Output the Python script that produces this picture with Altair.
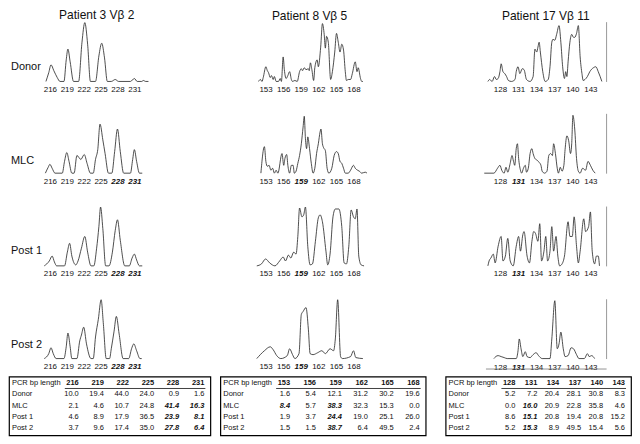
import altair as alt
import pandas as pd

FONT = "Liberation Sans"
INK = "#111111"

# ---------------- labels ----------------
titles = ["Patient 3 Vβ 2", "Patient 8 Vβ 5", "Patient 17 Vβ 11"]
conditions = ["Donor", "MLC", "Post 1", "Post 2"]

p3_ticks = [216, 219, 222, 225, 228, 231]
p8_ticks = [153, 156, 159, 162, 165, 168]
p17_ticks = [128, 131, 134, 137, 140, 143]
p3_emph_ticks = [228, 231]
p8_emph_ticks = [159]
p17_emph_ticks = [131]

# ---------------- spectratype traces: (bp length, peak height) ----------------
p3_donor = [(215.3, 0), (215.8, 9), (216.2, 17), (216.7, 11), (217.3, 4), (217.8, 0),
            (218.5, 0), (218.9, 22), (219.2, 33), (219.6, 20), (220.2, 0),
            (221.1, 0), (221.7, 40), (222.2, 60), (222.7, 38), (223.2, 0),
            (224.1, 0), (224.7, 26), (225.2, 39), (225.7, 24), (226.2, 0),
            (226.9, 0), (227.6, 2), (228.2, 0), (230.3, 0), (231.0, 3), (231.5, 0),
            (232.3, 0), (232.6, 1), (233.0, 0), (233.5, 0)]
p3_mlc = [(215.2, 0), (215.7, 6), (216.0, 9), (216.4, 5), (216.9, 0),
          (218.2, 0), (218.6, 12), (219.0, 21), (219.4, 12), (219.9, 0),
          (220.3, 0), (220.8, 18), (221.5, 14), (222.1, 19), (222.6, 10), (223.2, 0),
          (223.7, 0), (224.1, 14), (224.5, 24), (224.9, 50), (225.4, 34), (225.8, 20), (226.4, 0),
          (227.0, 0), (227.5, 22), (228.0, 45), (228.5, 22), (229.1, 0),
          (230.3, 0), (230.7, 14), (231.0, 24), (231.4, 12), (231.9, 0), (232.4, 0)]
p3_post1 = [(215.0, 0), (215.9, 5), (216.4, 10), (216.8, 4), (217.2, 0),
            (218.6, 0), (219.1, 14), (219.5, 23), (219.9, 10), (220.6, 1),
            (221.0, 5), (221.6, 18), (222.2, 30), (222.7, 14), (223.3, 0),
            (223.8, 0), (224.3, 18), (224.7, 40), (225.0, 60), (225.4, 38), (225.9, 0),
            (226.5, 0), (227.1, 14), (227.6, 36), (228.0, 47), (228.5, 26), (229.3, 0),
            (230.1, 0), (230.6, 8), (231.0, 12), (231.4, 6), (231.9, 0), (232.4, 0)]
p3_post2 = [(215.0, 0), (215.8, 5), (216.2, 11), (216.6, 5), (217.1, 0),
            (218.5, 0), (218.9, 12), (219.2, 26), (219.6, 12), (219.9, 0),
            (220.8, 0), (221.3, 18), (221.6, 24), (222.0, 32), (222.5, 15), (223.3, 0),
            (223.7, 0), (224.1, 22), (224.6, 40), (225.1, 60), (225.5, 35), (226.0, 0),
            (226.6, 0), (226.9, 10), (227.4, 28), (227.8, 43), (228.3, 25), (229.0, 0),
            (230.0, 0), (230.5, 10), (230.9, 15), (231.4, 8), (232.0, 0), (232.3, 0)]

p8_donor = [(151.8, 0), (152.1, 2), (152.4, 0), (152.6, 4), (153.05, 15), (153.3, 11),
            (153.5, 9), (153.8, 4), (154.0, 6), (154.3, 2), (154.5, 5), (154.8, 0),
            (155.2, 0), (155.5, 3), (155.7, 0), (156.0, 25), (156.2, 12), (156.5, 3),
            (156.8, 6), (157.1, 10), (157.4, 2), (157.6, 0), (158.0, 1), (158.4, 0),
            (158.8, 10), (159.1, 13), (159.3, 11), (159.6, 14), (159.9, 12), (160.3, 13),
            (160.45, 11), (160.65, 19), (160.9, 12), (161.2, 1), (161.4, 14), (161.8, 22),
            (162.0, 15), (162.4, 35), (162.7, 59), (163.0, 48), (163.2, 34), (163.4, 46),
            (163.7, 40), (164.1, 2), (164.4, 10), (164.8, 30), (165.1, 49), (165.4, 40),
            (165.7, 30), (166.0, 38), (166.3, 32), (166.6, 10), (166.8, 1), (167.1, 2),
            (167.5, 2), (167.8, 8), (168.3, 20), (168.6, 10), (168.8, 14), (169.2, 3),
            (169.4, 0), (169.6, 0)]
p8_mlc = [(152.2, 0), (152.8, 27), (153.05, 12), (153.3, 7), (153.6, 8), (153.9, 3),
          (154.2, 5), (154.5, 0), (154.8, 3), (155.1, 0), (155.8, 20), (156.1, 8),
          (156.3, 15), (156.6, 19), (156.8, 8), (157.1, 0), (157.4, 8), (157.7, 8),
          (157.9, 0), (158.2, 2), (158.5, 10), (158.8, 18), (159.1, 30), (159.4, 47),
          (159.6, 58), (159.8, 35), (160.0, 25), (160.2, 37), (160.5, 25), (160.8, 10),
          (161.1, 0), (161.4, 5), (161.7, 20), (162.0, 30), (162.3, 42), (162.45, 45),
          (162.7, 30), (162.9, 26), (163.2, 23), (163.5, 5), (163.8, 0), (164.3, 5),
          (164.7, 18), (165.1, 22), (165.4, 20), (165.7, 12), (166.0, 10), (166.3, 5),
          (166.6, 0), (167.1, 0), (167.5, 3), (168.0, 8), (168.3, 5), (168.7, 3),
          (169.0, 2), (169.4, 0), (170.0, 1), (170.3, 0)]
p8_post1 = [(151.5, 0), (152.3, 2), (153.0, 7), (153.7, 3), (154.6, 0), (155.4, 5),
            (156.0, 9), (156.4, 5), (156.9, 11), (157.3, 8), (157.8, 14), (158.2, 12),
            (158.5, 30), (158.8, 59), (159.2, 50), (159.5, 52), (159.8, 60), (160.2, 20),
            (160.6, 1), (161.0, 2), (161.5, 25), (162.0, 49), (162.3, 52), (162.7, 45),
            (163.3, 15), (163.6, 1), (164.0, 12), (164.5, 50), (164.9, 58), (165.5, 58),
            (166.0, 40), (166.4, 3), (166.8, 2), (167.2, 20), (167.6, 57), (168.0, 50),
            (168.3, 48), (168.6, 58), (168.9, 10), (169.3, 1), (169.8, 0)]
p8_post2 = [(151.5, 0), (152.8, 8), (153.8, 12), (154.3, 9), (154.9, 3), (155.6, 0),
            (156.7, 3), (157.1, 10), (157.6, 4), (158.0, 0), (158.7, 5), (159.1, 45),
            (159.4, 48), (159.9, 52), (160.3, 30), (160.6, 5), (161.1, 4), (161.9, 6),
            (162.6, 8), (163.2, 5), (164.0, 10), (164.6, 8), (164.9, 20), (165.3, 60),
            (165.8, 2), (166.1, 0), (167.5, 2), (168.0, 8), (168.4, 1), (169.6, 0)]

p17_donor = [(126.0, 0), (126.3, 2), (126.7, 0), (127.1, 5), (127.4, 2), (127.7, 3),
             (128.0, 10), (128.2, 18), (128.5, 10), (128.8, 8), (129.1, 5), (129.4, 1),
             (129.9, 0), (130.5, 2), (130.7, 10), (131.0, 15), (131.3, 8), (131.7, 13),
             (132.0, 12), (132.4, 2), (133.0, 0), (133.5, 5), (133.8, 33), (134.1, 30),
             (134.3, 35), (134.5, 40), (134.7, 30), (135.1, 10), (135.5, 0), (136.0, 2),
             (136.3, 15), (136.6, 40), (136.8, 43), (137.1, 42), (137.4, 48), (137.8, 57),
             (138.1, 40), (138.4, 15), (138.7, 3), (138.9, 10), (139.1, 5), (139.3, 20),
             (139.6, 40), (139.9, 48), (140.2, 45), (140.4, 45), (140.7, 49), (141.0, 57),
             (141.3, 25), (141.6, 8), (141.8, 1), (142.1, 2), (142.5, 5), (142.9, 10),
             (143.5, 14), (143.9, 15), (144.3, 10), (144.9, 0)]
p17_mlc = [(125.4, 0), (127.0, 0), (127.6, 5), (128.0, 8), (128.3, 3), (128.7, 0),
           (129.0, 6), (129.3, 1), (129.7, 10), (130.0, 18), (130.25, 12), (130.45, 8),
           (130.7, 25), (130.9, 30), (131.1, 15), (131.4, 3), (131.6, 0), (131.9, 5),
           (132.2, 8), (132.4, 1), (132.7, 5), (133.0, 20), (133.3, 25), (133.5, 20),
           (133.8, 15), (134.2, 13), (134.5, 11), (134.8, 8), (135.0, 2), (135.4, 0),
           (135.8, 2), (136.1, 18), (136.4, 20), (136.7, 18), (136.9, 30), (137.2, 20),
           (137.5, 5), (137.7, 0), (138.0, 6), (138.3, 2), (138.6, 8), (138.8, 24),
           (139.1, 38), (139.4, 33), (139.7, 20), (139.9, 30), (140.1, 59), (140.4, 45),
           (140.7, 15), (141.0, 2), (141.3, 0), (141.7, 5), (142.2, 3), (142.6, 12),
           (143.0, 8), (143.4, 3), (143.8, 0)]
p17_post1 = [(126.0, 0), (126.2, 5), (126.5, 8), (126.9, 12), (127.2, 3), (127.7, 20),
             (128.2, 30), (128.5, 5), (128.9, 10), (129.3, 28), (129.7, 5), (130.2, 0),
             (130.7, 20), (131.1, 30), (131.4, 15), (131.8, 32), (132.0, 35), (132.5, 10),
             (132.9, 3), (133.3, 25), (133.6, 35), (133.9, 33), (134.3, 25), (134.6, 43),
             (134.9, 5), (135.3, 15), (135.6, 30), (135.9, 5), (136.3, 15), (136.6, 40),
             (136.9, 15), (137.3, 30), (137.6, 10), (137.9, 0), (138.3, 2), (138.7, 10),
             (139.3, 45), (139.6, 30), (140.0, 30), (140.3, 50), (140.7, 20), (141.0, 3),
             (141.3, 15), (141.9, 48), (142.2, 35), (142.7, 40), (143.0, 55), (143.3, 15),
             (143.7, 2), (144.0, 10), (144.3, 10), (144.5, 0)]
p17_post2 = [(127.0, 0), (127.3, 2), (127.7, 3), (128.2, 2), (128.7, 1), (129.2, 0),
             (130.7, 0), (131.0, 8), (131.2, 20), (131.5, 10), (131.8, 2), (132.2, 7),
             (132.5, 2), (133.0, 1), (133.5, 4), (134.0, 6), (134.4, 3), (135.0, 0),
             (136.3, 0), (136.6, 20), (137.1, 59), (137.5, 10), (137.8, 15), (138.1, 27),
             (138.5, 10), (138.8, 2), (139.3, 3), (139.8, 11), (140.2, 10), (140.7, 4),
             (141.1, 0), (142.0, 0), (142.5, 5), (142.8, 2), (143.2, 3), (143.7, 0)]

# ---------------- tables ----------------
table_corner = "PCR bp length"
t1_values = [[10.0, 19.4, 44.0, 24.0, 0.9, 1.6],
             [2.1, 4.6, 10.7, 24.8, 41.4, 16.3],
             [4.6, 8.9, 17.9, 36.5, 23.9, 8.1],
             [3.7, 9.6, 17.4, 35.0, 27.8, 6.4]]
t1_emph = [[0, 0, 0, 0, 0, 0], [0, 0, 0, 0, 1, 1], [0, 0, 0, 0, 1, 1], [0, 0, 0, 0, 1, 1]]
t2_values = [[1.6, 5.4, 12.1, 31.2, 30.2, 19.6],
             [8.4, 5.7, 38.3, 32.3, 15.3, 0.0],
             [1.9, 3.7, 24.4, 19.0, 25.1, 26.0],
             [1.5, 1.5, 38.7, 6.4, 49.5, 2.4]]
t2_emph = [[0, 0, 0, 0, 0, 0], [1, 0, 1, 0, 0, 0], [0, 0, 1, 0, 0, 0], [0, 0, 1, 0, 0, 0]]
t3_values = [[5.2, 7.2, 20.4, 28.1, 30.8, 8.3],
             [0.0, 16.0, 20.9, 22.8, 35.8, 4.6],
             [8.6, 15.1, 20.8, 19.4, 20.8, 15.2],
             [5.2, 15.3, 8.9, 49.5, 15.4, 5.6]]
t3_emph = [[0, 0, 0, 0, 0, 0], [0, 1, 0, 0, 0, 0], [0, 1, 0, 0, 0, 0], [0, 1, 0, 0, 0, 0]]

# ---------------- layout settings ----------------
PANEL_H = 60
col_ticks = [p3_ticks, p8_ticks, p17_ticks]
col_emph = [p3_emph_ticks, p8_emph_ticks, p17_emph_ticks]
col_domain = [[208.74, 234.58], [151.4, 173.0], [125.6, 145.6]]
col_width = [146, 127, 121]
title_dx = [15, -10, 0]
row_label_y = [46, 48, 45, 46]
traces = [[p3_donor, p8_donor, p17_donor],
          [p3_mlc, p8_mlc, p17_mlc],
          [p3_post1, p8_post1, p17_post1],
          [p3_post2, p8_post2, p17_post2]]


def emph_test(vals):
    return " || ".join(f"datum.value == {v}" for v in vals)


def panel(row, col):
    df = pd.DataFrame(traces[row][col], columns=["bp", "h"])
    ax_kw = dict(values=col_ticks[col], format="d", ticks=False, tickSize=0, domain=False,
                 grid=False, title=None, labelFont=FONT, labelFontSize=8, labelColor=INK,
                 labelPadding=4, labelFlush=False, labelOverlap=False, minExtent=0)
    if row > 0:
        t = emph_test(col_emph[col])
        ax_kw["labelFontWeight"] = {"condition": {"test": t, "value": "bold"}, "value": "normal"}
        ax_kw["labelFontStyle"] = {"condition": {"test": t, "value": "italic"}, "value": "normal"}
    if col == 2 and row == 3:
        ax_kw.update(domain=True, domainColor="#777777", domainWidth=0.8, offset=10, labelPadding=-5)
    x_axis = alt.Axis(**ax_kw)

    if col == 2:
        y_axis = alt.Axis(orient="right", title=None, labels=False, ticks=False,
                          domain=True, domainColor="#999999", domainWidth=1,
                          grid=False, minExtent=0)
    else:
        y_axis = None

    line = alt.Chart(df).mark_line(interpolate="monotone", color="#222222", strokeWidth=0.8).encode(
        x=alt.X("bp:Q", scale=alt.Scale(domain=col_domain[col], nice=False, zero=False), axis=x_axis),
        y=alt.Y("h:Q", scale=alt.Scale(domain=[0, 61], nice=False), axis=y_axis),
    )
    layers = [line]
    if col == 0:
        lab = pd.DataFrame({"label": [conditions[row]]})
        layers.append(alt.Chart(lab).mark_text(align="left", baseline="middle", font=FONT,
                                               fontSize=11, color=INK).encode(
            x=alt.value(2), y=alt.value(row_label_y[row]), text="label:N"))
    ch = alt.layer(*layers)
    props = dict(width=col_width[col], height=PANEL_H)
    if row == 0:
        props["title"] = alt.TitleParams(titles[col], font=FONT, fontSize=12, fontWeight="normal",
                                         color=INK, offset=-1, anchor="middle", dx=title_dx[col])
    return ch.properties(**props)


def table(ticks, values, emph, width, height=59):
    first_x, right_pad = 70, 6
    step = (width - right_pad - first_x) / 5.0
    dom = [1 - first_x / step, 6 + right_pad / step]
    lab = pd.DataFrame({"ri": list(range(5)), "label": [table_corner] + conditions})
    head = pd.DataFrame({"ri": [0] * 6, "ci": list(range(1, 7)), "txt": [str(t) for t in ticks]})
    recs = []
    for r, (vals, em) in enumerate(zip(values, emph), start=1):
        for c, (v, e) in enumerate(zip(vals, em), start=1):
            recs.append({"ri": r, "ci": c, "txt": f"{v:.1f}", "emph": e})
    body = pd.DataFrame(recs)
    line = pd.DataFrame({"x0": [1 - 14 / step], "x1": [6 + 1 / step], "y": [0.5]})

    xs = alt.Scale(domain=dom, nice=False, zero=False)
    ys = alt.Scale(domain=[-0.55, 4.6], nice=False, zero=False, reverse=True)
    X = alt.X("ci:Q", scale=xs, axis=None)
    Y = alt.Y("ri:Q", scale=ys, axis=None)
    tk = dict(font=FONT, fontSize=7.5, color=INK, baseline="middle")

    l_lab = alt.Chart(lab).mark_text(align="left", **tk).encode(x=alt.value(3), y=Y, text="label:N")
    l_head = alt.Chart(head).mark_text(align="right", fontWeight="bold", **tk).encode(x=X, y=Y, text="txt:N")
    l_norm = alt.Chart(body).transform_filter("datum.emph == 0").mark_text(align="right", **tk).encode(
        x=X, y=Y, text="txt:N")
    l_emph = alt.Chart(body).transform_filter("datum.emph == 1").mark_text(
        align="right", fontWeight="bold", fontStyle="italic", **tk).encode(x=X, y=Y, text="txt:N")
    l_line = alt.Chart(line).mark_rule(color=INK, strokeWidth=0.8).encode(
        x=alt.X("x0:Q", scale=xs, axis=None), x2="x1:Q", y=alt.Y("y:Q", scale=ys, axis=None))
    return alt.layer(l_lab, l_head, l_norm, l_emph, l_line).properties(
        width=width, height=height,
        view=alt.ViewBackground(stroke="#000000", strokeWidth=1.2, fill="white"))


panels = [panel(r, c) for r in range(4) for c in range(3)]
grid = alt.concat(*panels, columns=3, spacing={"row": 20, "column": 100}, align="each")
tables = alt.hconcat(
    alt.hconcat(table(p3_ticks, t1_values, t1_emph, 202),
                table(p8_ticks, t2_values, t2_emph, 206), spacing=8),
    table(p17_ticks, t3_values, t3_emph, 186), spacing=18)

chart = alt.vconcat(grid, tables, spacing=4).properties(
    padding={"left": 0, "top": 0, "right": 0, "bottom": 0},
    background="white",
).configure_view(stroke=None)

chart.save("out.html", embed_options={"renderer": "svg", "actions": False})
